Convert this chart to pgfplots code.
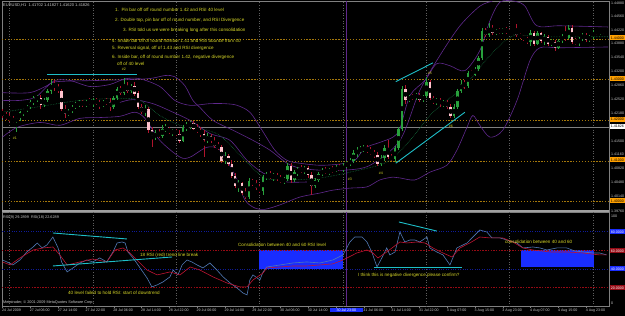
\documentclass[border=0pt]{standalone}
\usepackage{pgfplots}
\pgfplotsset{compat=1.18}
\usepackage{pgfplotstable}
\usepackage{fontspec}
\setmainfont{Liberation Sans}
\definecolor{axgray}{RGB}{128,128,128}
\definecolor{sepgray}{RGB}{160,160,160}
\definecolor{txtgray}{RGB}{200,200,200}
\definecolor{gridc}{RGB}{95,95,95}
\definecolor{bullc}{RGB}{40,160,60}
\definecolor{bearc}{RGB}{255,195,205}
\definecolor{bearw}{RGB}{175,20,45}
\definecolor{bandc}{RGB}{95,40,140}
\definecolor{mac}{RGB}{20,110,60}
\definecolor{lvl}{RGB}{165,120,10}
\definecolor{cyanl}{RGB}{30,190,200}
\definecolor{ann}{RGB}{215,215,40}
\definecolor{rsib}{RGB}{80,120,180}
\definecolor{rsir}{RGB}{190,20,50}
\definecolor{rectb}{RGB}{25,45,255}
\definecolor{orangebox}{RGB}{255,160,0}
\definecolor{lvlred}{RGB}{150,10,20}
\newcommand{\fs}[1]{\fontsize{#1}{#1}\selectfont}

\pgfplotstableread{
i o h l c
0 1.4220 1.4229 1.4207 1.4212
1 1.4212 1.4220 1.4202 1.4207
2 1.4210 1.4217 1.4195 1.4200
3 1.4200 1.4210 1.4193 1.4198
4 1.4198 1.4207 1.4171 1.4205
5 1.4205 1.4224 1.4198 1.4220
6 1.4220 1.4229 1.4212 1.4224
7 1.4224 1.4239 1.4220 1.4234
8 1.4234 1.4249 1.4229 1.4244
9 1.4244 1.4259 1.4237 1.4254
10 1.4254 1.4263 1.4246 1.4256
11 1.4256 1.4263 1.4229 1.4237
12 1.4237 1.4256 1.4234 1.4251
13 1.4251 1.4278 1.4246 1.4273
14 1.4273 1.4298 1.4266 1.4288
15 1.4288 1.4298 1.4273 1.4283
16 1.4283 1.4290 1.4266 1.4271
17 1.4271 1.4276 1.4224 1.4229
18 1.4229 1.4239 1.4207 1.4215
19 1.4215 1.4227 1.4210 1.4222
20 1.4222 1.4239 1.4217 1.4234
21 1.4234 1.4244 1.4229 1.4239
22 1.4239 1.4249 1.4234 1.4244
23 1.4244 1.4251 1.4234 1.4239
24 1.4239 1.4249 1.4232 1.4246
25 1.4246 1.4256 1.4239 1.4241
26 1.4241 1.4254 1.4234 1.4249
27 1.4249 1.4256 1.4237 1.4241
28 1.4241 1.4251 1.4229 1.4237
29 1.4237 1.4249 1.4232 1.4246
30 1.4246 1.4256 1.4239 1.4244
31 1.4244 1.4254 1.4224 1.4232
32 1.4232 1.4261 1.4229 1.4256
33 1.4256 1.4283 1.4251 1.4278
34 1.4278 1.4285 1.4263 1.4268
35 1.4268 1.4305 1.4263 1.4283
36 1.4283 1.4293 1.4268 1.4273
37 1.4273 1.4290 1.4268 1.4285
38 1.4285 1.4293 1.4261 1.4266
39 1.4266 1.4273 1.4227 1.4232
40 1.4232 1.4239 1.4215 1.4220
41 1.4220 1.4237 1.4210 1.4229
42 1.4229 1.4234 1.4168 1.4176
43 1.4176 1.4183 1.4134 1.4159
44 1.4159 1.4176 1.4151 1.4168
45 1.4168 1.4180 1.4156 1.4161
46 1.4161 1.4188 1.4156 1.4178
47 1.4178 1.4190 1.4171 1.4180
48 1.4180 1.4183 1.4166 1.4171
49 1.4171 1.4180 1.4163 1.4173
50 1.4173 1.4180 1.4161 1.4166
51 1.4166 1.4176 1.4144 1.4149
52 1.4149 1.4188 1.4146 1.4183
53 1.4183 1.4195 1.4173 1.4188
54 1.4188 1.4198 1.4178 1.4193
55 1.4193 1.4198 1.4176 1.4180
56 1.4180 1.4190 1.4168 1.4173
57 1.4173 1.4183 1.4159 1.4166
58 1.4166 1.4176 1.4110 1.4151
59 1.4151 1.4168 1.4144 1.4161
60 1.4161 1.4166 1.4144 1.4149
61 1.4149 1.4159 1.4132 1.4137
62 1.4137 1.4146 1.4127 1.4134
63 1.4134 1.4141 1.4095 1.4100
64 1.4100 1.4122 1.4093 1.4112
65 1.4112 1.4117 1.4088 1.4093
66 1.4093 1.4102 1.4059 1.4063
67 1.4063 1.4071 1.4034 1.4039
68 1.4039 1.4054 1.4024 1.4046
69 1.4046 1.4049 1.4017 1.4022
70 1.4022 1.4034 1.4007 1.4012
71 1.4012 1.4059 1.4007 1.4051
72 1.4051 1.4056 1.4039 1.4046
73 1.4046 1.4054 1.4029 1.4034
74 1.4034 1.4044 1.4022 1.4027
75 1.4027 1.4066 1.4017 1.4061
76 1.4061 1.4073 1.4054 1.4066
77 1.4066 1.4076 1.4056 1.4061
78 1.4061 1.4071 1.4051 1.4066
79 1.4066 1.4071 1.4051 1.4056
80 1.4056 1.4066 1.4046 1.4051
81 1.4051 1.4061 1.4044 1.4056
82 1.4056 1.4095 1.4051 1.4088
83 1.4088 1.4095 1.4046 1.4054
84 1.4054 1.4078 1.4049 1.4073
85 1.4073 1.4085 1.4063 1.4080
86 1.4080 1.4090 1.4071 1.4076
87 1.4076 1.4088 1.4068 1.4083
88 1.4083 1.4088 1.4059 1.4066
89 1.4066 1.4073 1.4017 1.4039
90 1.4039 1.4059 1.4034 1.4054
91 1.4054 1.4073 1.4049 1.4068
92 1.4068 1.4083 1.4063 1.4078
93 1.4078 1.4085 1.4068 1.4073
94 1.4073 1.4083 1.4066 1.4080
95 1.4080 1.4088 1.4071 1.4076
96 1.4076 1.4090 1.4073 1.4085
97 1.4085 1.4093 1.4076 1.4080
98 1.4080 1.4095 1.4073 1.4088
99 1.4088 1.4100 1.4083 1.4095
100 1.4095 1.4107 1.4088 1.4100
101 1.4100 1.4127 1.4095 1.4120
102 1.4120 1.4134 1.4110 1.4127
103 1.4127 1.4137 1.4120 1.4129
104 1.4129 1.4139 1.4122 1.4132
105 1.4132 1.4139 1.4120 1.4124
106 1.4124 1.4134 1.4115 1.4120
107 1.4120 1.4127 1.4107 1.4115
108 1.4115 1.4122 1.4088 1.4093
109 1.4093 1.4115 1.4088 1.4107
110 1.4107 1.4139 1.4100 1.4132
111 1.4132 1.4151 1.4105 1.4110
112 1.4110 1.4117 1.4100 1.4105
113 1.4105 1.4137 1.4098 1.4132
114 1.4132 1.4185 1.4127 1.4180
115 1.4180 1.4285 1.4173 1.4278
116 1.4278 1.4288 1.4241 1.4249
117 1.4249 1.4263 1.4244 1.4259
118 1.4259 1.4266 1.4249 1.4256
119 1.4256 1.4268 1.4251 1.4263
120 1.4263 1.4268 1.4246 1.4251
121 1.4251 1.4263 1.4246 1.4259
122 1.4259 1.4307 1.4254 1.4293
123 1.4293 1.4298 1.4249 1.4254
124 1.4254 1.4259 1.4239 1.4244
125 1.4244 1.4256 1.4239 1.4251
126 1.4251 1.4256 1.4234 1.4239
127 1.4239 1.4249 1.4232 1.4244
128 1.4244 1.4251 1.4229 1.4234
129 1.4234 1.4239 1.4205 1.4210
130 1.4210 1.4239 1.4205 1.4234
131 1.4234 1.4278 1.4227 1.4273
132 1.4273 1.4298 1.4268 1.4290
133 1.4290 1.4298 1.4278 1.4285
134 1.4285 1.4320 1.4280 1.4317
135 1.4317 1.4324 1.4310 1.4312
136 1.4312 1.4332 1.4310 1.4327
137 1.4327 1.4359 1.4322 1.4354
138 1.4354 1.4427 1.4349 1.4420
139 1.4420 1.4427 1.4405 1.4410
140 1.4410 1.4439 1.4405 1.4427
141 1.4427 1.4434 1.4410 1.4415
142 1.4415 1.4424 1.4410 1.4420
143 1.4420 1.4427 1.4412 1.4417
144 1.4417 1.4427 1.4412 1.4422
145 1.4422 1.4429 1.4412 1.4417
146 1.4417 1.4424 1.4410 1.4412
147 1.4412 1.4422 1.4410 1.4420
148 1.4420 1.4437 1.4405 1.4410
149 1.4410 1.4415 1.4400 1.4405
150 1.4405 1.4410 1.4395 1.4400
151 1.4400 1.4405 1.4388 1.4393
152 1.4393 1.4422 1.4383 1.4415
153 1.4415 1.4420 1.4383 1.4388
154 1.4388 1.4420 1.4385 1.4415
155 1.4415 1.4417 1.4390 1.4395
156 1.4395 1.4412 1.4385 1.4405
157 1.4405 1.4410 1.4383 1.4388
158 1.4388 1.4400 1.4383 1.4393
159 1.4393 1.4398 1.4371 1.4378
160 1.4378 1.4400 1.4376 1.4395
161 1.4395 1.4412 1.4390 1.4407
162 1.4407 1.4432 1.4395 1.4402
163 1.4402 1.4434 1.4400 1.4427
164 1.4427 1.4434 1.4388 1.4393
165 1.4393 1.4402 1.4385 1.4390
166 1.4390 1.4405 1.4383 1.4400
167 1.4400 1.4415 1.4395 1.4410
168 1.4410 1.4415 1.4393 1.4398
169 1.4398 1.4410 1.4393 1.4405
170 1.4405 1.4422 1.4400 1.4417
171 1.4417 1.4422 1.4410 1.4415
172 1.4415 1.4422 1.4410 1.4420
173 1.4420 1.4424 1.4412 1.4417
}\candles

\begin{document}
\begin{tikzpicture}
\fill[black] (0pt,0pt) rectangle (625pt,-316pt);
% ---------------- price panel ----------------
\begin{axis}[
  at={(2pt,-211pt)}, anchor=south west, scale only axis,
  width=607pt, height=210pt,
  xmin=-0.144, xmax=174.53, ymin=1.397805, ymax=1.449268,
  axis line style={axgray, line width=0.6pt},
  xtick=\empty,
  ytick={1.4014,1.4048,1.4082,1.4116,1.4150,1.4184,1.4218,1.4252,1.4286,1.4320,1.4354,1.4388,1.4422,1.4456,1.4488},
  ytick pos=right, yticklabel pos=right, tick align=outside, major tick length=1.5pt,
  tick style={axgray},
  scaled y ticks=false,
  yticklabel style={font=\fs{3.6}, text=txtgray, anchor=west, inner sep=0.6pt,
    /pgf/number format/.cd, fixed, precision=5, zerofill, assume math mode=true},
  clip=true,
]
\pgfplotsinvokeforeach{2,26,50,74,98,122,146,170}{
  \draw[gridc, dash pattern=on 0.6pt off 2pt, line width=0.5pt] (axis cs:#1,1.397805) -- (axis cs:#1,1.449268);
}
% round-number levels
\addplot[lvl, dash pattern=on 1.3pt off 1.6pt, line width=0.55pt] coordinates {(-0.144,1.4400) (174.53,1.4400)};
\addplot[lvl, dash pattern=on 1.3pt off 1.6pt, line width=0.55pt] coordinates {(-0.144,1.4300) (174.53,1.4300)};
\addplot[lvl, dash pattern=on 1.3pt off 1.6pt, line width=0.55pt] coordinates {(-0.144,1.4201) (174.53,1.4201)};
\addplot[lvl, dash pattern=on 1.3pt off 1.6pt, line width=0.55pt] coordinates {(-0.144,1.4101) (174.53,1.4101)};
\addplot[lvl, dash pattern=on 1.3pt off 1.6pt, line width=0.55pt] coordinates {(-0.144,1.4001) (174.53,1.4001)};
% bid line
\addplot[axgray, line width=0.6pt] coordinates {(-0.144,1.4183) (174.53,1.4183)};
% vertical line
\draw[bandc, line width=0.6pt] (axis cs:99.1,1.397805) -- (axis cs:99.1,1.449268);
% bands
\addplot[bandc, line width=0.6pt, smooth, tension=0.5] coordinates {
(0,1.4249) (5.0,1.4249) (9.4,1.4256) (12.2,1.4278) (15.1,1.4298) (19.4,1.4298) (25.2,1.4283) (30.9,1.4288) (35.3,1.4302) (39.6,1.4302) (45.3,1.4283) (49.6,1.4249) (54.0,1.4237) (59.7,1.4241) (64.0,1.4241) (67.5,1.4237) (71.2,1.4220) (74.7,1.4176) (78.4,1.4127) (81.9,1.4102) (85.6,1.4095) (91.4,1.4090) (97.1,1.4093) (101.4,1.4102) (104.3,1.4132) (108.6,1.4146) (112.4,1.4159) (114.4,1.4180) (117.3,1.4261) (121.6,1.4298) (125.0,1.4339) (128.8,1.4334) (133.1,1.4322) (137.4,1.4371) (140.3,1.4444) (143.2,1.4490) (147.5,1.4492) (150.4,1.4480) (153.8,1.4432) (160.4,1.4432) (174.3,1.4429)};
\addplot[bandc, line width=0.6pt, smooth, tension=0.5] coordinates {
(0,1.4159) (4.2,1.4183) (10.8,1.4195) (16.5,1.4188) (22.3,1.4205) (28.1,1.4207) (33.8,1.4210) (38.1,1.4220) (41.0,1.4205) (45.3,1.4151) (51.1,1.4110) (54.0,1.4110) (58.8,1.4134) (62.6,1.4127) (66.9,1.4066) (69.8,1.4005) (72.7,1.3985) (75.5,1.3982) (79.9,1.3993) (85.6,1.4012) (91.4,1.4022) (95.1,1.4029) (100.0,1.4034) (104.9,1.4037) (108.6,1.4054) (112.4,1.4061) (114.4,1.4059) (118.7,1.4054) (123.0,1.4073) (127.9,1.4090) (130.8,1.4127) (133.7,1.4183) (135.4,1.4212) (137.4,1.4188) (140.3,1.4159) (144.0,1.4176) (148.1,1.4249) (151.8,1.4346) (154.7,1.4378) (160.4,1.4378) (174.3,1.4380)};
\addplot[bandc, line width=0.6pt, smooth, tension=0.5] coordinates {
(0,1.4268) (7.9,1.4268) (12.8,1.4285) (15.7,1.4295) (28.1,1.4298) (41.6,1.4302) (46.8,1.4310) (49.6,1.4307) (52.5,1.4285) (54.8,1.4249) (56.8,1.4232) (60.6,1.4200) (66.3,1.4176) (72.1,1.4151) (77.0,1.4127) (81.9,1.4095) (85.6,1.4083) (91.4,1.4078) (98.6,1.4078) (105.8,1.4090) (114.4,1.4151) (120.1,1.4273) (125.9,1.4359) (131.7,1.4432) (137.4,1.4480) (141,1.4492)};
\addplot[bandc, line width=0.6pt, smooth, tension=0.5] coordinates {
(33.8,1.4244) (37.6,1.4251) (43.3,1.4241) (49.1,1.4220) (54.0,1.4200) (59.7,1.4168) (65.5,1.4151) (70.4,1.4102) (75.0,1.4071) (79.0,1.4059) (81.9,1.4049) (87.6,1.4049)};
% moving average (dotted)
\addplot[mac, densely dotted, line width=0.6pt, smooth] coordinates {
(0,1.4220) (10.8,1.4234) (22.3,1.4249) (33.8,1.4254) (39.6,1.4249) (45.3,1.4212) (51.1,1.4188) (56.8,1.4180) (62.6,1.4163) (69.8,1.4102) (75.5,1.4059) (82.7,1.4054) (91.4,1.4059) (100.0,1.4073) (110.7,1.4098) (117.3,1.4151) (123.0,1.4212) (127.9,1.4249) (133.1,1.4285) (140.3,1.4359) (146.9,1.4407) (154.7,1.4405) (174.3,1.4405)};
% candles: wicks
\addplot[only marks, mark=none, forget plot,
  restrict expr to domain={\thisrow{c}-\thisrow{o}}{0:1},
  error bars/.cd, y dir=both, y explicit, error mark=none,
  error bar style={draw=bullc, line width=0.6pt}]
  table[x=i, y expr={(\thisrow{h}+\thisrow{l})/2}, y error expr={(\thisrow{h}-\thisrow{l})/2}] {\candles};
\addplot[only marks, mark=none, forget plot,
  restrict expr to domain={\thisrow{c}-\thisrow{o}}{-1:-0.000001},
  error bars/.cd, y dir=both, y explicit, error mark=none,
  error bar style={draw=bearw, line width=0.6pt}]
  table[x=i, y expr={(\thisrow{h}+\thisrow{l})/2}, y error expr={(\thisrow{h}-\thisrow{l})/2}] {\candles};
% candles: bodies
\addplot[only marks, mark=none, forget plot,
  restrict expr to domain={\thisrow{c}-\thisrow{o}}{0:1},
  error bars/.cd, y dir=both, y explicit, error mark=none,
  error bar style={draw=bullc, line width=2.4pt}]
  table[x=i, y expr={(\thisrow{o}+\thisrow{c})/2}, y error expr={max(abs(\thisrow{c}-\thisrow{o})/2,0.00005)}] {\candles};
\addplot[only marks, mark=none, forget plot,
  restrict expr to domain={\thisrow{c}-\thisrow{o}}{-1:-0.000001},
  error bars/.cd, y dir=both, y explicit, error mark=none,
  error bar style={draw=bearc, line width=2.4pt}]
  table[x=i, y expr={(\thisrow{o}+\thisrow{c})/2}, y error expr={abs(\thisrow{c}-\thisrow{o})/2}] {\candles};
% trend lines
\draw[cyanl, line width=0.9pt] (axis cs:12.8,1.4312) -- (axis cs:38.7,1.4312);
\draw[cyanl, line width=0.9pt] (axis cs:113.2,1.4295) -- (axis cs:123.9,1.4341);
\draw[cyanl, line width=0.9pt] (axis cs:113.2,1.4095) -- (axis cs:133.1,1.4220);
\end{axis}
% panel separator
\draw[sepgray, line width=1.2pt] (2pt,-211pt) -- (609pt,-211pt);
% ---------------- RSI panel ----------------
\begin{axis}[
  at={(2pt,-306.5pt)}, anchor=south west, scale only axis,
  width=607pt, height=94pt,
  xmin=-0.144, xmax=174.53, ymin=0, ymax=100.6,
  axis line style={axgray, line width=0.6pt},
  ytick=\empty,
  xtick={0,8,...,168},
  xticklabels={24 Jul 2009,27 Jul 06:00,27 Jul 14:00,27 Jul 22:00,28 Jul 06:00,28 Jul 14:00,28 Jul 22:00,29 Jul 06:00,29 Jul 14:00,29 Jul 22:00,30 Jul 06:00,30 Jul 14:00,30 Jul 22:00,31 Jul 06:00,31 Jul 14:00,31 Jul 22:00,3 Aug 07:00,3 Aug 15:00,3 Aug 23:00,4 Aug 07:00,4 Aug 15:00,4 Aug 23:00},
  xtick pos=bottom, tick align=outside, major tick length=1.5pt, tick style={axgray},
  xticklabel style={font=\fs{3.6}, text=txtgray, anchor=north west, inner sep=0.5pt, xshift=-1pt},
  clip=true,
]
\pgfplotsinvokeforeach{2,26,50,74,98,122,146,170}{
  \draw[gridc, dash pattern=on 0.6pt off 2pt, line width=0.5pt] (axis cs:#1,0) -- (axis cs:#1,100.6);
}
\fill[rectb] (axis cs:73.8,40) rectangle (axis cs:98.0,60);
\fill[rectb] (axis cs:149.2,42.2) rectangle (axis cs:170.2,60.4);
\addplot[lvlred, dash pattern=on 1.5pt off 1.2pt, line width=0.5pt] coordinates {(-0.144,60) (174.53,60)};
\addplot[lvlred, dash pattern=on 1.5pt off 1.2pt, line width=0.5pt] coordinates {(-0.144,20) (174.53,20)};
\addplot[rectb!60!black, dotted, line width=0.4pt] coordinates {(-0.144,80) (174.53,80)};
\addplot[rectb!60!black, dotted, line width=0.4pt] coordinates {(-0.144,40) (174.53,40)};
\draw[bandc, line width=0.6pt] (axis cs:99.1,0) -- (axis cs:99.1,100.6);
% RSI 9
\addplot[rsib, line width=0.6pt] coordinates {
(0,49.7) (1.3,47.6) (3,44.4) (5,49.7) (7,58.3) (8.8,63.6) (10,67.9) (11.4,62.6) (12.8,65.8) (14.5,74.3) (16,62.6) (17,47.6) (18.6,36.9) (20.3,41.2) (22.3,46.5) (24.3,49.7) (26,47.6) (28,51.9) (30,47.6) (31.8,58.3) (33,67.9) (34.4,69.0) (35.3,67.9) (36.1,58.3) (37.6,51.9) (39.6,41.2) (41.6,30.5) (43,20.9) (44.5,23.0) (46.2,26.2) (48.2,31.6) (49.1,39.0) (50.5,33.7) (51.7,44.4) (53.1,49.7) (54.5,47.6) (56,44.4) (57.7,41.2) (59.7,46.5) (61.7,39.0) (63.5,31.6) (65.5,25.1) (67.5,19.8) (69.2,14.4) (70.4,12.3) (71.2,28.3) (72.1,33.7) (74.1,28.3) (75,36.9) (76.1,42.2) (79.9,44.4) (83.6,46.5) (87.6,47.6) (91.4,46.5) (95.1,49.7) (98,55.1) (100,69.0) (101.4,74.3) (103.5,74.3) (104.9,69.0) (106.3,58.3) (107.8,42.2) (109.2,51.9) (110.6,62.6) (111.5,55.1) (113,58.3) (114.4,79.7) (115.8,69.0) (117.3,71.1) (118.7,71.1) (120.1,69.0) (122.2,74.3) (123,62.6) (125,58.3) (126.8,55.1) (128.8,44.4) (130.8,62.6) (133.7,67.9) (135.4,74.3) (137.4,81.8) (139.4,79.7) (140.9,73.3) (143.2,73.3) (145.2,71.1) (148.1,67.9) (149.8,62.6) (152.7,63.6) (154.7,62.6) (156.7,60.4) (159.6,62.6) (162.4,62.6) (164.7,59.4) (167.1,58.3) (169.9,57.2) (171.9,57.2) (173.9,55.1)};
% RSI 18
\addplot[rsir, line width=0.6pt] coordinates {
(0,47.6) (2.2,44.4) (5,51.9) (8.8,60.4) (11.7,62.6) (14.5,63.6) (16.5,55.1) (18.6,44.4) (22.3,47.6) (26,50.8) (30,47.6) (32.4,60.4) (34.7,62.6) (36.7,57.2) (38.7,49.7) (41.6,39.0) (44.5,33.7) (48.2,36.9) (51.1,33.7) (54,42.2) (56.8,39.0) (60.6,31.6) (64.6,25.1) (68.3,20.9) (70.4,20.9) (72.1,28.3) (75,35.8) (76.1,41.2) (79.9,42.2) (83.6,43.3) (87.6,43.3) (91.4,44.4) (95.1,45.5) (98,49.7) (102,57.2) (104.9,60.4) (106.6,57.2) (108.1,51.9) (110.6,58.3) (114.4,69.0) (116.4,67.9) (119.3,69.0) (121.6,67.9) (123.9,62.6) (126.8,57.2) (129.4,52.9) (131.7,62.6) (134.5,67.9) (137.4,74.3) (140.3,73.3) (144,73.3) (146.9,69.0) (149.8,62.6) (152.7,60.4) (157.6,58.3) (162.4,58.3) (167.1,57.2) (171.9,55.1) (173.9,55.1)};
\draw[cyanl, line width=0.9pt] (axis cs:14.5,78.6) -- (axis cs:35.8,72.2);
\draw[cyanl, line width=0.9pt] (axis cs:14.5,43.3) -- (axis cs:48.8,52.9);
\draw[cyanl, line width=0.9pt] (axis cs:114.1,90.4) -- (axis cs:125.0,80.7);
\draw[cyanl, line width=0.9pt] (axis cs:106.9,41.2) -- (axis cs:132.2,41.2);
\end{axis}
% ---------------- right-side labels ----------------
\begin{scope}[x=1pt,y=1pt]
\foreach \yy/\tt in {38/1.44000,79/1.43000,119.5/1.42000,160/1.41000,201/1.40000}{
  \node[fill=orangebox, text=black, font=\fs{3.6}, inner sep=0.5pt, anchor=west, minimum width=15.5pt, minimum height=5pt] at (609.5,-\yy) {\tt};
}
\node[fill=white, text=black, font=\fs{3.6}, inner sep=0.5pt, anchor=west, minimum width=15.5pt, minimum height=5pt] at (609.5,-126.5) {1.41826};
\node[text=txtgray, font=\fs{3.6}, inner sep=0.5pt, anchor=west] at (610.5,-211) {1.39760};
\node[text=txtgray, font=\fs{3.6}, inner sep=0.5pt, anchor=west] at (610.5,-216) {100};
\node[text=txtgray, font=\fs{3.6}, inner sep=0.5pt, anchor=west] at (610.5,-303.5) {0};
\foreach \yy/\tt/\cc in {232/80.0000/rectb,251/60.0000/lvlred,269/40.0000/rectb,288/20.0000/lvlred}{
  \node[fill=\cc, text=white, font=\fs{3.6}, inner sep=0.5pt, anchor=west, minimum width=15.5pt, minimum height=5pt] at (609.5,-\yy) {\tt};
}
\node[fill=rectb, text=white, font=\fs{3.6}, inner sep=0.6pt, minimum width=33pt] at (346.5,-310.3) {30 Jul 23:00};
\node[text=txtgray, font=\fs{4}, anchor=west, inner sep=0] at (3,-5) {EURUSD,H1\ \ 1.41702 1.41827 1.41620 1.41826};
\begin{scope}[every node/.style={text=ann, font=\fs{4.6}, anchor=west, inner sep=0}]
\node at (115,-10) {1.\ \ Pin bar off off round number 1.42 and RSI 40 level};
\node at (115,-20) {2. Double top, pin bar off of round number, and RSI Divergence};
\node at (123,-30) {3. RSI told us we were breaking long after this consolidation};
\node at (112,-41) {4. Inside bar off of round number 1.41 and RSI bounce from 40};
\node at (112,-48.5) {5. Reversal signal, off of 1.43 and RSI divergence};
\node at (112,-57) {6. Inside bar, off of round number 1.42, negative divergence};
\node at (117,-63.5) {off of 40 level};
\node at (140,-255) {18 RSI (red) trend line break};
\node at (238,-245) {Consolidation between 40 and 60 RSI level};
\node at (68,-293) {40 level failed to hold RSI: start of downtrend};
\node at (358,-275) {I think this is negative divergence please confirm?};
\node at (505,-242) {consolidation between 40 and 60};
\end{scope}
\begin{scope}[every node/.style={text=ann, font=\fs{3.6}, anchor=center, inner sep=0}]
\node at (15,-138) {\#1};
\node at (124,-69.5) {\#2};
\node at (350,-179) {\#3};
\node at (381,-173) {\#4};
\node at (430,-73) {\#5};
\node at (451,-126) {\#6};
\end{scope}
\node[text=txtgray, font=\fs{3.8}, anchor=west, inner sep=0] at (3,-218) {RSI(9) 29.2899\ \ RSI(18) 22.6289};
\node[text=txtgray, font=\fs{3.8}, anchor=west, inner sep=0] at (3,-303) {Metatrader, © 2001-2009 MetaQuotes Software Corp.};
\end{scope}
\end{tikzpicture}
\end{document}
